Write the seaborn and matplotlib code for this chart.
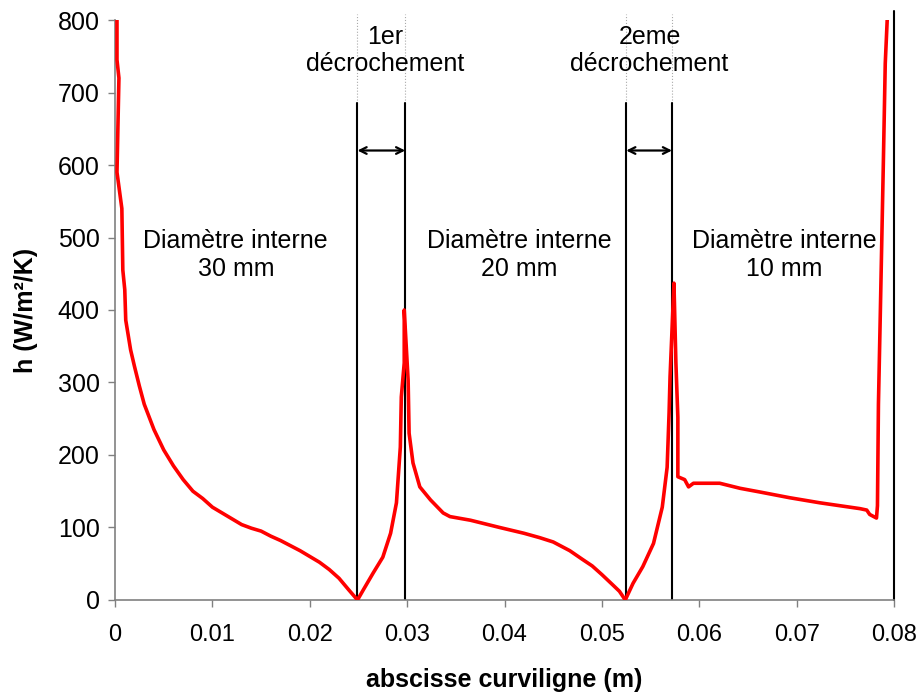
import pandas as pd
import seaborn as sns
import matplotlib.pyplot as plt

# curvilinear abscissa (m) and heat transfer coefficient h (W/m2/K)
x_m = [0.0002, 0.0002, 0.0004, 0.0002, 0.0007, 0.0008, 0.0010, 0.0011, 0.0016, 0.0020,
       0.0025, 0.0030, 0.0040, 0.0050, 0.0060, 0.0070, 0.0080, 0.0090, 0.0100, 0.0110,
       0.0120, 0.0130, 0.0140, 0.0150, 0.0160, 0.0170, 0.0180, 0.0190, 0.0200, 0.0210,
       0.0220, 0.0230, 0.0240, 0.0249,
       0.0255, 0.0265, 0.0275, 0.0283, 0.0289, 0.0293, 0.0294, 0.0297, 0.0297, 0.0301,
       0.0302, 0.0306, 0.0313, 0.0324, 0.0337, 0.0344,
       0.0365, 0.0395, 0.0420, 0.0436, 0.0450, 0.0467, 0.0480, 0.0490, 0.0500, 0.0511,
       0.0518, 0.0524,
       0.0532, 0.0542, 0.0553, 0.0562, 0.0567, 0.0569, 0.0570, 0.0572, 0.0574, 0.0576,
       0.0578, 0.0578, 0.0585, 0.0589, 0.0594, 0.0621,
       0.0642, 0.0662, 0.0693, 0.0724, 0.0765, 0.0772, 0.0775, 0.0782, 0.0783, 0.0784,
       0.0786, 0.0789, 0.0791, 0.0793]
h_val = [800, 745, 720, 590, 540, 455, 428, 386, 345, 322,
         295, 270, 235, 207, 185, 166, 150, 140, 128, 120,
         112, 104, 99, 95, 88, 82, 75, 68, 60, 52,
         42, 30, 14, 0,
         14, 37, 59, 92, 134, 211, 280, 327, 400, 303,
         230, 189, 156, 138, 120, 115,
         110, 100, 92, 86, 80, 68, 56, 47, 35, 21,
         12, 0,
         23, 46, 78, 128, 183, 258, 308, 372, 437, 327,
         252, 170, 166, 156, 161, 161,
         154, 149, 141, 134, 126, 124, 118, 113, 130, 270,
         400, 600, 740, 800]

step_x = [0.0249, 0.0298, 0.0525, 0.0572]   # décrochement boundaries
end_x = 0.08
zone_x = [0.0124, 0.0415, 0.0687]
zone_labels = ["Diamètre interne\n30 mm", "Diamètre interne\n20 mm", "Diamètre interne\n10 mm"]
step_label_x = [0.0277, 0.0549]
step_labels = ["1er\ndécrochement", "2eme\ndécrochement"]

df = pd.DataFrame({"x": x_m, "h": h_val})

sns.set_theme(style="white")
plt.rcParams['font.family'] = ['Liberation Sans', 'DejaVu Sans']
plt.rcParams['text.color'] = 'black'
plt.rcParams['axes.labelcolor'] = 'black'

fig = plt.figure(figsize=(9.21, 7), dpi=100)
ax = fig.add_axes([0.1249, 0.1429, 0.8458, 0.8285])

sns.lineplot(data=df, x="x", y="h", sort=False, estimator=None, color="#ff0000",
             linewidth=2.6, ax=ax, zorder=3)

for xv in step_x:
    ax.plot([xv, xv], [0, 685], color="black", linewidth=1.5, zorder=2)
    ax.plot([xv, xv], [685, 808], color="#aaaaaa", linewidth=0.8, linestyle=":",
            clip_on=False, zorder=1)
ax.plot([end_x, end_x], [0, 812], color="black", linewidth=1.5, clip_on=False, zorder=2)

for a, b in [(step_x[0], step_x[1]), (step_x[2], step_x[3])]:
    ax.annotate("", xy=(a, 620), xytext=(b, 620),
                arrowprops=dict(arrowstyle="<->", color="black", lw=1.6,
                                shrinkA=0, shrinkB=0))

for xv, lab in zip(zone_x, zone_labels):
    ax.text(xv, 476, lab, ha="center", va="center", fontsize=18, linespacing=1.2)
for xv, lab in zip(step_label_x, step_labels):
    ax.text(xv, 758, lab, ha="center", va="center", fontsize=18, linespacing=1.2)

ax.set_xlim(0, 0.08)
ax.set_ylim(0, 800)
ax.set_xticks([0, 0.01, 0.02, 0.03, 0.04, 0.05, 0.06, 0.07, 0.08])
ax.set_xticklabels(["0", "0.01", "0.02", "0.03", "0.04", "0.05", "0.06", "0.07", "0.08"])
ax.set_yticks(range(0, 801, 100))
ax.tick_params(axis="both", labelsize=18, direction="out", length=5, width=1,
               color="#808080", labelcolor="black", bottom=True, left=True)
ax.tick_params(axis="x", pad=12, labelsize=17)
ax.tick_params(axis="y", pad=6)
ax.set_xlabel("abscisse curviligne (m)", fontsize=18, fontweight="bold", labelpad=16)
ax.set_ylabel("h (W/m²/K)", fontsize=18, fontweight="bold", labelpad=14)

for side in ["top", "right"]:
    ax.spines[side].set_visible(False)
for side in ["left", "bottom"]:
    ax.spines[side].set_color("#808080")
    ax.spines[side].set_linewidth(1.2)

fig.savefig("out.png", dpi=100)
